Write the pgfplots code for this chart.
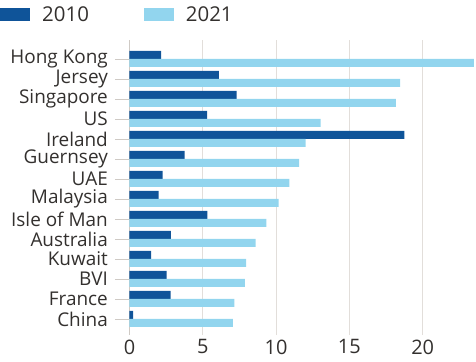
\documentclass[border=0pt]{standalone}
\usepackage{fontspec}
\setmainfont{Open Sans}
\usepackage{pgfplots}
\pgfplotsset{compat=1.18}
\usetikzlibrary{calc}
\definecolor{darkb}{HTML}{0F5499}
\definecolor{lightb}{HTML}{92D5EE}
\definecolor{txt}{HTML}{33302E}
\definecolor{gridc}{HTML}{E2DEDA}
\definecolor{axc}{HTML}{CFCAC5}
\begin{document}
\begin{tikzpicture}
\begin{axis}[
  scale only axis,
  width=346.5bp, height=295bp,
  xbar, bar width=8bp,
  xmin=0, xmax=23.64,
  ymin=-0.8, ymax=13.95,
  ytick={0,...,13},
  yticklabels={China,France,BVI,Kuwait,Australia,Isle of Man,Malaysia,UAE,Guernsey,Ireland,US,Singapore,Jersey,Hong Kong},
  xtick={0,5,10,15,20},
  axis x line*=bottom,
  x axis line style={draw=none},
  axis y line*=left,
  y axis line style={draw=axc, line width=0.8pt, -},
  xmajorgrids, grid style={draw=gridc, line width=0.8pt},
  tick align=outside,
  major tick length=14.5bp,
  ytick style={draw=axc, line width=0.8pt},
  xtick style={draw=none},
  yticklabel style={font=\fontsize{19}{20}\selectfont, text=txt, inner sep=0pt, xshift=-7bp},
  xticklabel style={font=\fontsize{20}{21}\selectfont, text=txt, inner sep=0pt, yshift=10bp},
  /pgf/number format/assume math mode=true,
  legend style={at={(rel axis cs:-0.3737,1.115)}, anchor=north west, draw=none, fill=none, inner sep=0pt,
     font=\fontsize{20.5}{21}\selectfont, text=txt,
     nodes={inner sep=0pt},
     /tikz/every even column/.append style={column sep=55bp},
     /tikz/every odd column/.append style={column sep=12bp}},
  legend columns=2,
  legend cell align=left,
  legend image code/.code={\fill[#1] (0bp,-6.5bp) rectangle (30bp,6.5bp);},
]
\addplot[fill=darkb, draw=none, bar shift=4bp] coordinates {
(0.24,0) (2.81,1) (2.54,2) (1.47,3) (2.83,4) (5.31,5) (1.99,6) (2.26,7) (3.76,8) (18.75,9) (5.29,10) (7.31,11) (6.10,12) (2.15,13)};
\addplot[fill=lightb, draw=none, bar shift=-4bp] coordinates {
(7.06,0) (7.15,1) (7.88,2) (7.95,3) (8.61,4) (9.33,5) (10.18,6) (10.90,7) (11.58,8) (12.02,9) (13.04,10) (18.18,11) (18.47,12) (23.5,13)};
\legend{2010,2021}
\coordinate (SW) at (rel axis cs:0,0);
\coordinate (NE) at (rel axis cs:1,1);
\end{axis}
\pgfresetboundingbox
\path ($(SW)+(-129.5bp,-27bp)$) rectangle ($(NE)+(0bp,40bp)$);
\end{tikzpicture}
\end{document}
